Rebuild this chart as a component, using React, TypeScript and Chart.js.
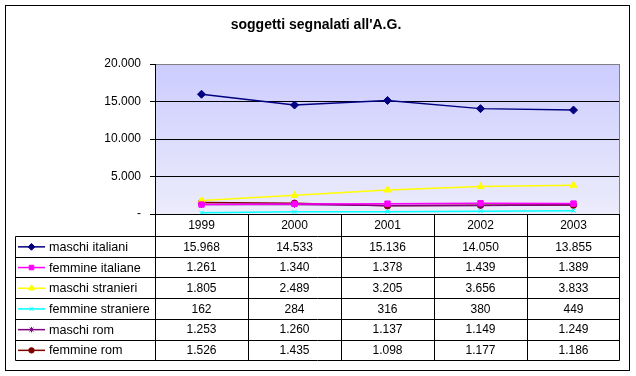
import React, { useEffect, useRef } from 'react';
import { Chart, registerables } from 'chart.js';
import { drawPoint } from 'chart.js/helpers';

Chart.register(...registerables);

const title = "soggetti segnalati all'A.G.";
const categories = ['1999', '2000', '2001', '2002', '2003'];
const maschiItaliani = [15968, 14533, 15136, 14050, 13855];
const femmineItaliane = [1261, 1340, 1378, 1439, 1389];
const maschiStranieri = [1805, 2489, 3205, 3656, 3833];
const femmineStraniere = [162, 284, 316, 380, 449];
const maschiRom = [1253, 1260, 1137, 1149, 1249];
const femmineRom = [1526, 1435, 1098, 1177, 1186];
const seriesNames = [
  'maschi italiani',
  'femmine italiane',
  'maschi stranieri',
  'femmine straniere',
  'maschi rom',
  'femmine rom',
];
const seriesValues = [maschiItaliani, femmineItaliane, maschiStranieri, femmineStraniere, maschiRom, femmineRom];
const yTicks = [0, 5000, 10000, 15000, 20000];

const FONT = '"Liberation Sans", Arial, sans-serif';

const styles = [
  { color: '#000080', point: 'rectRot', radius: 4 },
  { color: '#FF00FF', point: 'rect', radius: 3.8 },
  { color: '#FFFF00', point: 'triangle', radius: 4 },
  { color: '#00FFFF', point: 'crossRot', radius: 3 },
  { color: '#800080', point: 'star', radius: 3.2 },
  { color: '#800000', point: 'circle', radius: 3.2 },
];

function fmt(n: number): string {
  if (n === 0) return '-';
  return String(n).replace(/\B(?=(\d{3})+(?!\d))/g, '.');
}

const HEADER_H = 22;
const ROW_H = 20.7;
const LEGEND_LEFT = 15.5;

const decor = {
  id: 'decor',
  beforeDraw(chart: any) {
    const { ctx, chartArea: a } = chart;
    ctx.save();
    ctx.fillStyle = '#ffffff';
    ctx.fillRect(0, 0, chart.width, chart.height);
    const g = ctx.createLinearGradient(0, a.top, 0, a.bottom);
    g.addColorStop(0, '#CCCCFF');
    g.addColorStop(1, '#ECECFB');
    ctx.fillStyle = g;
    ctx.fillRect(a.left, a.top, a.right - a.left, a.bottom - a.top);
    ctx.restore();
  },
  afterDraw(chart: any) {
    const { ctx, chartArea: a } = chart;
    const xs = chart.scales.x;
    const n = categories.length;
    const band = (a.right - a.left) / n;
    ctx.save();
    // plot right border
    ctx.strokeStyle = '#808080';
    ctx.lineWidth = 1;
    ctx.beginPath();
    ctx.moveTo(Math.round(a.right) - 0.5, a.top);
    ctx.lineTo(Math.round(a.right) - 0.5, a.bottom);
    ctx.stroke();

    // title
    ctx.fillStyle = '#000';
    ctx.font = 'bold 14px ' + FONT;
    ctx.textAlign = 'center';
    ctx.textBaseline = 'middle';
    ctx.fillText(title, 316, 25);

    // data table
    const top = Math.round(a.bottom);
    const headerBottom = top + HEADER_H;
    const rows = seriesNames.length;
    const tableBottom = headerBottom + ROW_H * rows;
    const R = Math.round(a.right) - 0.5;
    ctx.strokeStyle = '#000';
    ctx.lineWidth = 1;
    ctx.beginPath();
    for (let i = 0; i <= n; i++) {
      const x = i === n ? R : Math.round(a.left + band * i) + 0.5;
      ctx.moveTo(x, top);
      ctx.lineTo(x, Math.round(tableBottom) + 0.5);
    }
    ctx.moveTo(LEGEND_LEFT, headerBottom + 0.5);
    ctx.lineTo(LEGEND_LEFT, Math.round(tableBottom) + 0.5);
    for (let r = 0; r <= rows; r++) {
      const y = Math.round(headerBottom + ROW_H * r) + 0.5;
      ctx.moveTo(LEGEND_LEFT, y);
      ctx.lineTo(R, y);
    }
    ctx.stroke();

    ctx.font = '12px ' + FONT;
    ctx.fillStyle = '#000';
    ctx.textAlign = 'center';
    ctx.textBaseline = 'middle';
    for (let i = 0; i < n; i++) {
      const cx = xs.getPixelForValue(i);
      ctx.fillText(categories[i], cx, top + HEADER_H / 2 + 1);
      for (let r = 0; r < rows; r++) {
        const cy = headerBottom + ROW_H * r + ROW_H / 2 + 1;
        ctx.fillText(fmt(seriesValues[r][i]), cx, cy);
      }
    }
    // legend entries
    ctx.font = '12.6px ' + FONT;
    for (let r = 0; r < rows; r++) {
      const cy = headerBottom + ROW_H * r + ROW_H / 2 + 0.5;
      const st = styles[r];
      ctx.strokeStyle = st.color;
      ctx.lineWidth = 1.5;
      ctx.beginPath();
      ctx.moveTo(18, cy);
      ctx.lineTo(45, cy);
      ctx.stroke();
      ctx.fillStyle = st.color;
      ctx.lineWidth = 1;
      drawPoint(ctx, { pointStyle: st.point as any, radius: st.radius * 0.85, rotation: 0, borderWidth: 1 } as any, 31.5, cy);
      ctx.fillStyle = '#000';
      ctx.textAlign = 'left';
      ctx.fillText(seriesNames[r], 49, cy + 0.5);
    }

    // outer border
    ctx.strokeStyle = '#000';
    ctx.lineWidth = 1;
    ctx.strokeRect(5.5, 5.5, 624, 365);
    ctx.restore();
  },
};

export default function App() {
  const ref = useRef<HTMLCanvasElement>(null);
  useEffect(() => {
    if (!ref.current) return;
    const chart = new Chart(ref.current, {
      type: 'line',
      data: {
        labels: categories,
        datasets: seriesNames.map((name, i) => ({
          label: name,
          data: seriesValues[i],
          borderColor: styles[i].color,
          backgroundColor: styles[i].color,
          pointBorderColor: styles[i].color,
          pointBackgroundColor: styles[i].color,
          pointStyle: styles[i].point as any,
          pointRadius: styles[i].radius,
          pointBorderWidth: 1,
          borderWidth: 1.5,
          tension: 0,
          fill: false,
        })),
      },
      options: {
        animation: false,
        responsive: false,
        devicePixelRatio: 1,
        layout: { padding: { left: 0, right: 16, top: 64, bottom: 162 } },
        plugins: {
          legend: { display: false },
          title: { display: false },
          tooltip: { enabled: false },
        },
        scales: {
          x: {
            type: 'category',
            display: false,
            offset: true,
          },
          y: {
            min: 0,
            max: 20000,
            afterFit(scale: any) {
              scale.width = 155;
            },
            afterBuildTicks(scale: any) {
              scale.ticks = yTicks.map((v) => ({ value: v }));
            },
            border: { color: '#000', width: 1 },
            grid: {
              color: (c: any) => (c.tick && c.tick.value === 20000 ? '#808080' : '#000000'),
              tickColor: '#000000',
              tickLength: 5,
              lineWidth: 1,
            },
            ticks: {
              color: '#000',
              padding: 9,
              font: { family: FONT, size: 12 },
              callback: (v: any) => fmt(Number(v)),
            },
          },
        },
      },
      plugins: [decor],
    });
    return () => chart.destroy();
  }, []);
  return (
    <div style={{ position: 'fixed', left: 0, top: 0, width: 636, height: 376 }}>
      <canvas ref={ref} width={636} height={376} style={{ display: 'block', width: 636, height: 376 }} />
    </div>
  );
}
